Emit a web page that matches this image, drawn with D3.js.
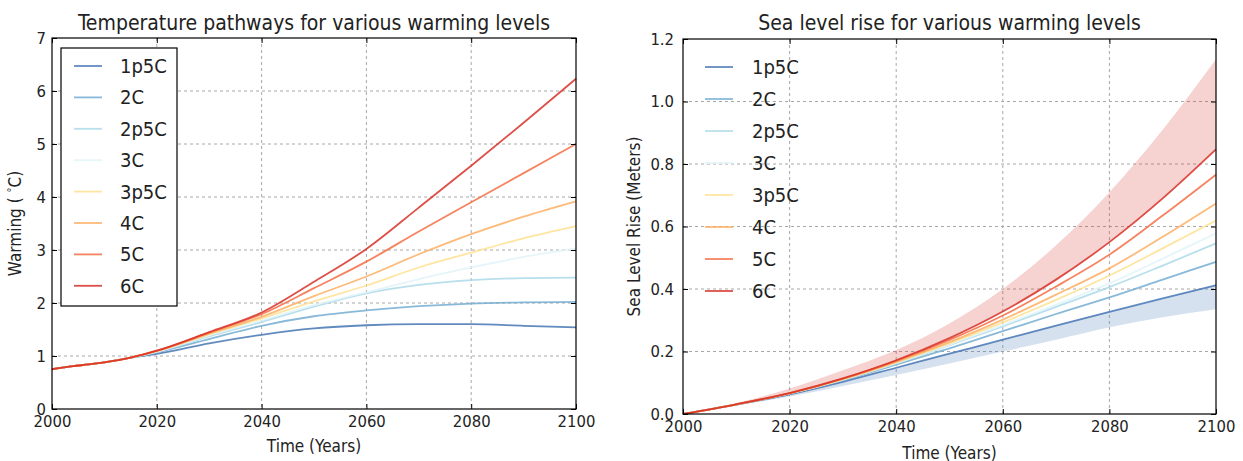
<!DOCTYPE html>
<html lang="en">
<head>
<meta charset="utf-8">
<title>Warming levels</title>
<style>
    body { margin: 0; background: #fff; }
    svg text { font-family: "DejaVu Sans Condensed", "DejaVu Sans", sans-serif; fill: #222; }
    .title { font-size: 21px; text-anchor: middle; }
    .axis-label { font-size: 17px; text-anchor: middle; }
    .tick text { font-size: 16.5px; }
    .grid line { stroke: #a8a8a8; stroke-dasharray: 3,3; stroke-width: 1; }
    .frame { fill: none; stroke: #000; stroke-width: 1.2; }
    .legend text { font-size: 20px; }
    .series { fill: none; stroke-width: 1.8; stroke-opacity: 0.85; }
</style>
</head>
<body>
<script src="https://d3js.org/d3.v7.min.js"></script>
<script>
    var scenarios = ['1p5C', '2C', '2p5C', '3C', '3p5C', '4C', '5C', '6C'];

    // warming (deg C), left panel
    var tempYears = [2000, 2004, 2007, 2010, 2015, 2020, 2030, 2040, 2050, 2060, 2070, 2080, 2090, 2100];
    var temp1p5C = [0.75, 0.81, 0.84, 0.88, 0.97, 1.04, 1.24, 1.40, 1.52, 1.58, 1.60, 1.60, 1.57, 1.54];
    var temp2C   = [0.75, 0.81, 0.84, 0.88, 0.97, 1.07, 1.32, 1.57, 1.75, 1.86, 1.94, 1.99, 2.01, 2.02];
    var temp2p5C = [0.75, 0.81, 0.84, 0.88, 0.97, 1.08, 1.37, 1.64, 1.93, 2.18, 2.34, 2.43, 2.47, 2.48];
    var temp3C   = [0.75, 0.81, 0.84, 0.88, 0.97, 1.08, 1.39, 1.67, 1.96, 2.20, 2.45, 2.67, 2.87, 3.03];
    var temp3p5C = [0.75, 0.81, 0.84, 0.88, 0.97, 1.09, 1.41, 1.71, 2.03, 2.33, 2.67, 2.95, 3.22, 3.45];
    var temp4C   = [0.75, 0.81, 0.84, 0.88, 0.97, 1.09, 1.42, 1.74, 2.13, 2.50, 2.92, 3.30, 3.63, 3.92];
    var temp5C   = [0.75, 0.81, 0.84, 0.88, 0.97, 1.10, 1.44, 1.79, 2.28, 2.78, 3.35, 3.90, 4.45, 5.00];
    var temp6C   = [0.75, 0.81, 0.84, 0.88, 0.97, 1.10, 1.45, 1.82, 2.40, 3.02, 3.80, 4.59, 5.40, 6.23];

    // sea level rise (m), right panel
    var slrYears = [2000, 2010, 2020, 2030, 2040, 2050, 2060, 2070, 2080, 2090, 2100];
    var slr1p5C = [0, 0.030, 0.063, 0.103, 0.148, 0.193, 0.238, 0.283, 0.327, 0.370, 0.412];
    var slr2C   = [0, 0.031, 0.065, 0.108, 0.158, 0.210, 0.265, 0.320, 0.373, 0.430, 0.487];
    var slr2p5C = [0, 0.031, 0.066, 0.110, 0.162, 0.220, 0.280, 0.343, 0.406, 0.475, 0.546];
    var slr3C   = [0, 0.031, 0.066, 0.110, 0.163, 0.222, 0.285, 0.350, 0.418, 0.497, 0.578];
    var slr3p5C = [0, 0.031, 0.066, 0.111, 0.165, 0.226, 0.293, 0.365, 0.443, 0.530, 0.619];
    var slr4C   = [0, 0.031, 0.066, 0.112, 0.167, 0.230, 0.302, 0.382, 0.466, 0.567, 0.674];
    var slr5C   = [0, 0.031, 0.067, 0.113, 0.170, 0.237, 0.315, 0.408, 0.510, 0.635, 0.766];
    var slr6C   = [0, 0.031, 0.067, 0.114, 0.172, 0.243, 0.328, 0.430, 0.550, 0.690, 0.847];
    var slr6CUpper   = [0, 0.035, 0.082, 0.140, 0.205, 0.290, 0.400, 0.540, 0.710, 0.910, 1.135];
    var slr1p5CLower = [0, 0.027, 0.056, 0.090, 0.125, 0.162, 0.200, 0.238, 0.278, 0.310, 0.335];

    var xTicks = [2000, 2020, 2040, 2060, 2080, 2100];
    var tempTicks = [0, 1, 2, 3, 4, 5, 6, 7];
    var slrTicks = [0, 0.2, 0.4, 0.6, 0.8, 1.0, 1.2];

    var colors = ['#4575b4', '#74add1', '#abd9e9', '#e0f3f8', '#fee090', '#fdae61', '#f46d43', '#d73027'];

    var tempSeries = [temp1p5C, temp2C, temp2p5C, temp3C, temp3p5C, temp4C, temp5C, temp6C];
    var slrSeries = [slr1p5C, slr2C, slr2p5C, slr3C, slr3p5C, slr4C, slr5C, slr6C];

    var svg = d3.select('body').append('svg')
        .attr('width', 1243)
        .attr('height', 461);

    function panel(opts) {
        var x = d3.scaleLinear().domain([2000, 2100]).range([opts.left, opts.right]);
        var y = d3.scaleLinear().domain(opts.yDomain).range([opts.bottom, opts.top]);
        var g = svg.append('g');

        // grid
        var grid = g.append('g').attr('class', 'grid');
        grid.selectAll('line.gx').data(xTicks.slice(1, -1)).enter().append('line')
            .attr('x1', function(d) { return x(d); }).attr('x2', function(d) { return x(d); })
            .attr('y1', opts.top).attr('y2', opts.bottom);
        grid.selectAll('line.gy').data(opts.yTicks.slice(1, -1)).enter().append('line')
            .attr('class', 'gy')
            .attr('x1', opts.left).attr('x2', opts.right)
            .attr('y1', function(d) { return y(d); }).attr('y2', function(d) { return y(d); });

        // bands
        if (opts.bands) {
            opts.bands.forEach(function(b) {
                var area = d3.area()
                    .x(function(d, i) { return x(opts.years[i]); })
                    .y0(function(d, i) { return y(b.lo[i]); })
                    .y1(function(d, i) { return y(b.hi[i]); })
                    .curve(d3.curveMonotoneX);
                g.append('path').datum(b.lo)
                    .attr('d', area)
                    .attr('fill', b.color)
                    .attr('fill-opacity', 0.22);
            });
        }

        var line = d3.line()
            .x(function(d, i) { return x(opts.years[i]); })
            .y(function(d) { return y(d); })
            .curve(d3.curveMonotoneX);

        g.selectAll('path.series').data(opts.series).enter().append('path')
            .attr('class', 'series')
            .attr('d', line)
            .attr('stroke', function(d, i) { return colors[i]; });

        // axes, ticks inside on all sides
        g.append('g').attr('transform', 'translate(0,' + opts.bottom + ')')
            .call(d3.axisBottom(x).tickValues(xTicks).tickFormat(d3.format('d'))
                .tickSizeInner(-5).tickSizeOuter(0).tickPadding(6));
        g.append('g').attr('transform', 'translate(' + opts.left + ',0)')
            .call(d3.axisLeft(y).tickValues(opts.yTicks).tickFormat(opts.yFormat)
                .tickSizeInner(-5).tickSizeOuter(0).tickPadding(opts.yPad));
        g.append('g').attr('transform', 'translate(0,' + opts.top + ')')
            .call(d3.axisTop(x).tickValues(xTicks).tickSizeInner(-5).tickSizeOuter(0).tickFormat(''));
        g.append('g').attr('transform', 'translate(' + opts.right + ',0)')
            .call(d3.axisRight(y).tickValues(opts.yTicks).tickSizeInner(-5).tickSizeOuter(0).tickFormat(''));
        g.selectAll('.domain').remove();
        g.selectAll('.tick line').attr('stroke', '#000');
        g.selectAll('.tick text').attr('fill', '#222');

        g.append('rect').attr('class', 'frame')
            .attr('x', opts.left).attr('y', opts.top)
            .attr('width', opts.right - opts.left).attr('height', opts.bottom - opts.top);

        g.append('text').attr('class', 'title')
            .attr('x', (opts.left + opts.right) / 2).attr('y', 30)
            .text(opts.title);
        g.append('text').attr('class', 'axis-label')
            .attr('x', (opts.left + opts.right) / 2).attr('y', opts.xLabelY)
            .text('Time (Years)');
        var yl = g.append('text').attr('class', 'axis-label')
            .attr('transform', 'translate(' + opts.yLabelX + ',' + (opts.top + opts.bottom) / 2 + ') rotate(-90)');
        opts.yLabel(yl);

        // legend
        var leg = g.append('g').attr('class', 'legend');
        if (opts.legendFrame) {
            leg.append('rect')
                .attr('x', opts.legendFrame[0]).attr('y', opts.legendFrame[1])
                .attr('width', opts.legendFrame[2]).attr('height', opts.legendFrame[3])
                .attr('fill', '#fff').attr('stroke', '#000').attr('stroke-width', 1.2);
        }
        var items = leg.selectAll('g.item').data(scenarios).enter().append('g')
            .attr('transform', function(d, i) { return 'translate(' + opts.legendX + ',' + (opts.legendY + i * opts.legendStep) + ')'; });
        items.append('line')
            .attr('x1', 0).attr('x2', 28).attr('y1', 0).attr('y2', 0)
            .attr('stroke', function(d, i) { return colors[i]; })
            .attr('stroke-width', 1.8).attr('stroke-opacity', 0.85);
        items.append('text')
            .attr('x', opts.legendTextDx).attr('y', 7)
            .text(function(d) { return d; });
    }

    panel({
        left: 52, right: 576, top: 38, bottom: 409,
        yDomain: [0, 7], yTicks: tempTicks, yFormat: d3.format('d'), yPad: 6,
        years: tempYears, series: tempSeries,
        title: 'Temperature pathways for various warming levels',
        yLabel: function(t) {
            t.append('tspan').text('Warming ( ');
            t.append('tspan').attr('font-size', '11px').attr('dy', -6).text('\u00b0');
            t.append('tspan').attr('dy', 6).text('C)');
        },
        yLabelX: 21, xLabelY: 452,
        legendFrame: [61, 48, 116, 258], legendX: 74, legendY: 66, legendStep: 31.4, legendTextDx: 46
    });

    panel({
        left: 683, right: 1216, top: 39, bottom: 414,
        yDomain: [0, 1.2], yTicks: slrTicks, yFormat: d3.format('.1f'), yPad: 9,
        years: slrYears, series: slrSeries,
        bands: [
            { lo: slr6C, hi: slr6CUpper, color: '#d73027' },
            { lo: slr1p5CLower, hi: slr1p5C, color: '#4575b4' }
        ],
        title: 'Sea level rise for various warming levels',
        yLabel: function(t) { t.text('Sea Level Rise (Meters)'); },
        yLabelX: 640, xLabelY: 459,
        legendX: 705, legendY: 67, legendStep: 32, legendTextDx: 47
    });
</script>
</body>
</html>
